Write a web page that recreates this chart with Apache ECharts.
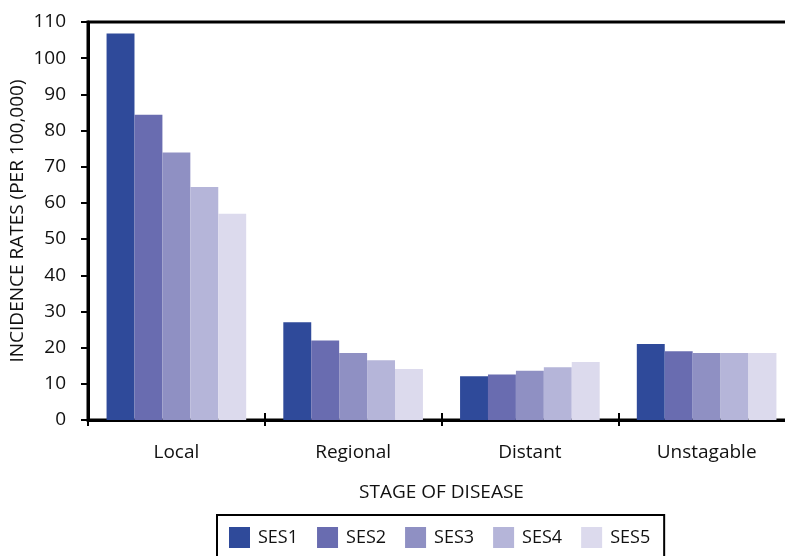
<!DOCTYPE html>
<html>
<head>
<meta charset="utf-8">
<script src="https://cdn.jsdelivr.net/npm/echarts@6/dist/echarts.min.js"></script>
<style>
  html, body { margin: 0; padding: 0; background: #ffffff; }
  #chart { width: 785px; height: 556px; }
</style>
</head>
<body>
<div id="chart"></div>
<script>
// Incidence rates per 100,000 by stage of disease and SES group
const stages = ['Local', 'Regional', 'Distant', 'Unstagable'];
const seriesNames = ['SES1', 'SES2', 'SES3', 'SES4', 'SES5'];
const ses1 = [106.8, 27.0, 12.1, 21.0];
const ses2 = [84.4, 22.0, 12.6, 19.0];
const ses3 = [73.9, 18.5, 13.6, 18.5];
const ses4 = [64.4, 16.5, 14.6, 18.5];
const ses5 = [57.0, 14.1, 16.0, 18.5];
const yMin = 0, yMax = 110, yStep = 10;

const seriesValues = [ses1, ses2, ses3, ses4, ses5];
const palette = ['#2f4a9a', '#696cb0', '#8f90c3', '#b5b5d9', '#dcdaed'];
const FONT = 'Open Sans';
const INK = '#111111';

const chart = echarts.init(document.getElementById('chart'), null, { renderer: 'canvas' });

chart.setOption({
  animation: false,
  backgroundColor: '#ffffff',
  textStyle: { fontFamily: FONT, color: INK },
  // plot frame runs past the right edge of the page, so only three sides show
  grid: {
    left: 88, top: 22, width: 707, height: 398,
    outerBoundsMode: 'none',
    containLabel: false,
    show: true, borderColor: '#000', borderWidth: 3, backgroundColor: 'transparent'
  },
  legend: {
    data: seriesNames,
    left: 217, top: 515,
    orient: 'horizontal',
    icon: 'rect',
    itemWidth: 21, itemHeight: 21,
    itemGap: 19,
    padding: [12, 14, 30, 12],
    borderColor: '#000', borderWidth: 2,
    textStyle: { fontFamily: FONT, fontSize: 18, color: INK, padding: [0, 0, 0, 3] }
  },
  xAxis: [
    {
      type: 'category',
      data: stages,
      position: 'bottom',
      name: 'STAGE OF DISEASE',
      nameLocation: 'middle',
      nameGap: 63,
      nameMoveOverlap: false,
      nameTextStyle: { fontFamily: FONT, fontSize: 19, color: INK },
      axisLine: { show: true, lineStyle: { color: '#000', width: 3 } },
      axisTick: { show: true, length: 6, lineStyle: { color: '#000', width: 2 } },
      axisLabel: { margin: 23, fontFamily: FONT, fontSize: 19, color: INK },
      splitLine: { show: false }
    },
    {
      // upward half of the category divider ticks
      type: 'category',
      data: stages,
      position: 'bottom',
      axisLine: { show: false },
      axisTick: { show: true, inside: true, length: 7, lineStyle: { color: '#000', width: 2 } },
      axisLabel: { show: false },
      splitLine: { show: false }
    }
  ],
  yAxis: {
    type: 'value',
    min: yMin, max: yMax, interval: yStep,
    name: 'INCIDENCE RATES (PER 100,000)',
    nameLocation: 'middle',
    nameGap: 61,
    nameMoveOverlap: false,
    nameRotate: 90,
    nameTextStyle: { fontFamily: FONT, fontSize: 19, color: INK },
    axisLine: { show: true, lineStyle: { color: '#000', width: 3 } },
    axisTick: { show: true, length: 7, lineStyle: { color: '#000', width: 2 } },
    axisLabel: { margin: 22, fontFamily: FONT, fontSize: 19, color: INK },
    splitLine: { show: false }
  },
  series: seriesNames.map((name, i) => ({
    name: name,
    type: 'bar',
    xAxisIndex: 0,
    data: seriesValues[i],
    barGap: '0%',
    barCategoryGap: '21%',
    itemStyle: { color: palette[i] }
  }))
});
</script>
</body>
</html>
